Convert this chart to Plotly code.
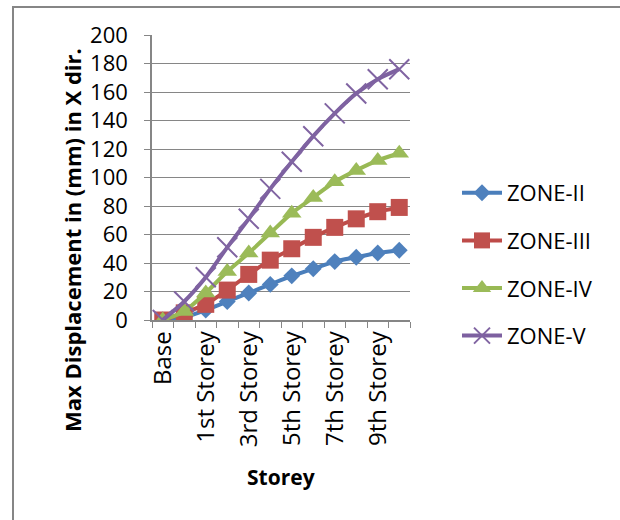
import plotly.graph_objects as go

# Storey levels along the building height
storeys = ["Base", "Plinth", "1st Storey", "2nd Storey", "3rd Storey", "4th Storey",
           "5th Storey", "6th Storey", "7th Storey", "8th Storey", "9th Storey", "10th Storey"]

# Maximum displacement (mm) in X direction for each seismic zone
zone_ii = [0, 2, 7, 13, 19, 25, 31, 36, 41, 44, 47, 49]
zone_iii = [0, 5, 11, 21, 32, 42, 50, 58, 65, 71, 76, 79]
zone_iv = [0, 6, 19, 34, 47, 61, 75, 86, 97, 105, 112, 117]
zone_v = [0, 13, 30, 51, 71, 92, 111, 129, 145, 159, 169, 176]

# Only every other storey gets a visible tick label
tick_labels = [s if i % 2 == 0 else "" for i, s in enumerate(storeys)]

W, H = 620, 520
L, R, T, B = 152, 210, 35, 200
pw, ph = W - L - R, H - T - B

series = [
    ("ZONE-II", zone_ii, "#4A7EBB", "#4F81BD", dict(symbol="diamond", size=13)),
    ("ZONE-III", zone_iii, "#BE4B48", "#C0504D", dict(symbol="square", size=17)),
    ("ZONE-IV", zone_iv, "#98B954", "#9BBB59", dict(symbol="triangle-up", size=17)),
    ("ZONE-V", zone_v, "#7D60A0", "#8064A2",
     dict(symbol="x-thin-open", size=20, line=dict(width=2, color="#8064A2"))),
]

fig = go.Figure()
for name, vals, lc, mc, mk in series:
    marker = dict(color=mc, **mk)
    if "line" not in marker:
        marker["line"] = dict(width=0)
    fig.add_trace(go.Scatter(
        x=storeys, y=vals, name=name, mode="lines+markers",
        line=dict(color=lc, width=4, shape="spline", smoothing=0.6),
        marker=marker, legendgroup=name,
    ))

font_family = "'Open Sans', Lato, 'Liberation Sans', sans-serif"
grey = "#868686"


def px_x(x):
    return (x - L) / pw


def px_y(y):
    return 1 - (y - T) / ph


fig.update_layout(
    width=W, height=H,
    margin=dict(l=L, r=R, t=T, b=B, pad=0),
    paper_bgcolor="white", plot_bgcolor="white",
    font=dict(family=font_family, size=22, color="black"),
    showlegend=True,
    legend=dict(
        x=px_x(457), y=px_y(172), xanchor="left", yanchor="top",
        font=dict(size=22), traceorder="grouped", tracegroupgap=16,
        bgcolor="rgba(0,0,0,0)", itemwidth=40,
    ),
    xaxis=dict(
        type="category", categoryorder="array", categoryarray=storeys,
        tickmode="array", tickvals=storeys, ticktext=tick_labels,
        tickangle=-90, tickson="boundaries", ticks="outside", ticklen=6,
        tickcolor=grey, showline=True, linecolor=grey, linewidth=1.5,
        showgrid=False, range=[-0.5, 11.5], tickfont=dict(size=24),
        fixedrange=True,
    ),
    yaxis=dict(
        range=[0, 200], tickmode="linear", tick0=0, dtick=20,
        ticks="outside", ticklen=6, tickcolor=grey,
        showline=True, linecolor=grey, linewidth=1.5,
        showgrid=True, gridcolor=grey, gridwidth=1, zeroline=False,
        tickfont=dict(size=22), ticklabelstandoff=12,
        fixedrange=True,
    ),
    annotations=[
        dict(text="<b>Max Displacement in (mm) in X dir.</b>", textangle=-90,
             xref="paper", yref="paper", x=px_x(72), y=px_y(240),
             xanchor="center", yanchor="middle", showarrow=False,
             font=dict(size=22)),
        dict(text="<b>Storey</b>",
             xref="paper", yref="paper", x=px_x(281), y=px_y(477),
             xanchor="center", yanchor="middle", showarrow=False,
             font=dict(size=21)),
    ],
    shapes=[dict(
        type="rect", xref="paper", yref="paper",
        x0=px_x(13), x1=px_x(W + 5),
        y0=px_y(H + 5), y1=px_y(7),
        line=dict(color=grey, width=2), fillcolor="rgba(0,0,0,0)", layer="below",
    )],
)

fig.write_html("out.html")
